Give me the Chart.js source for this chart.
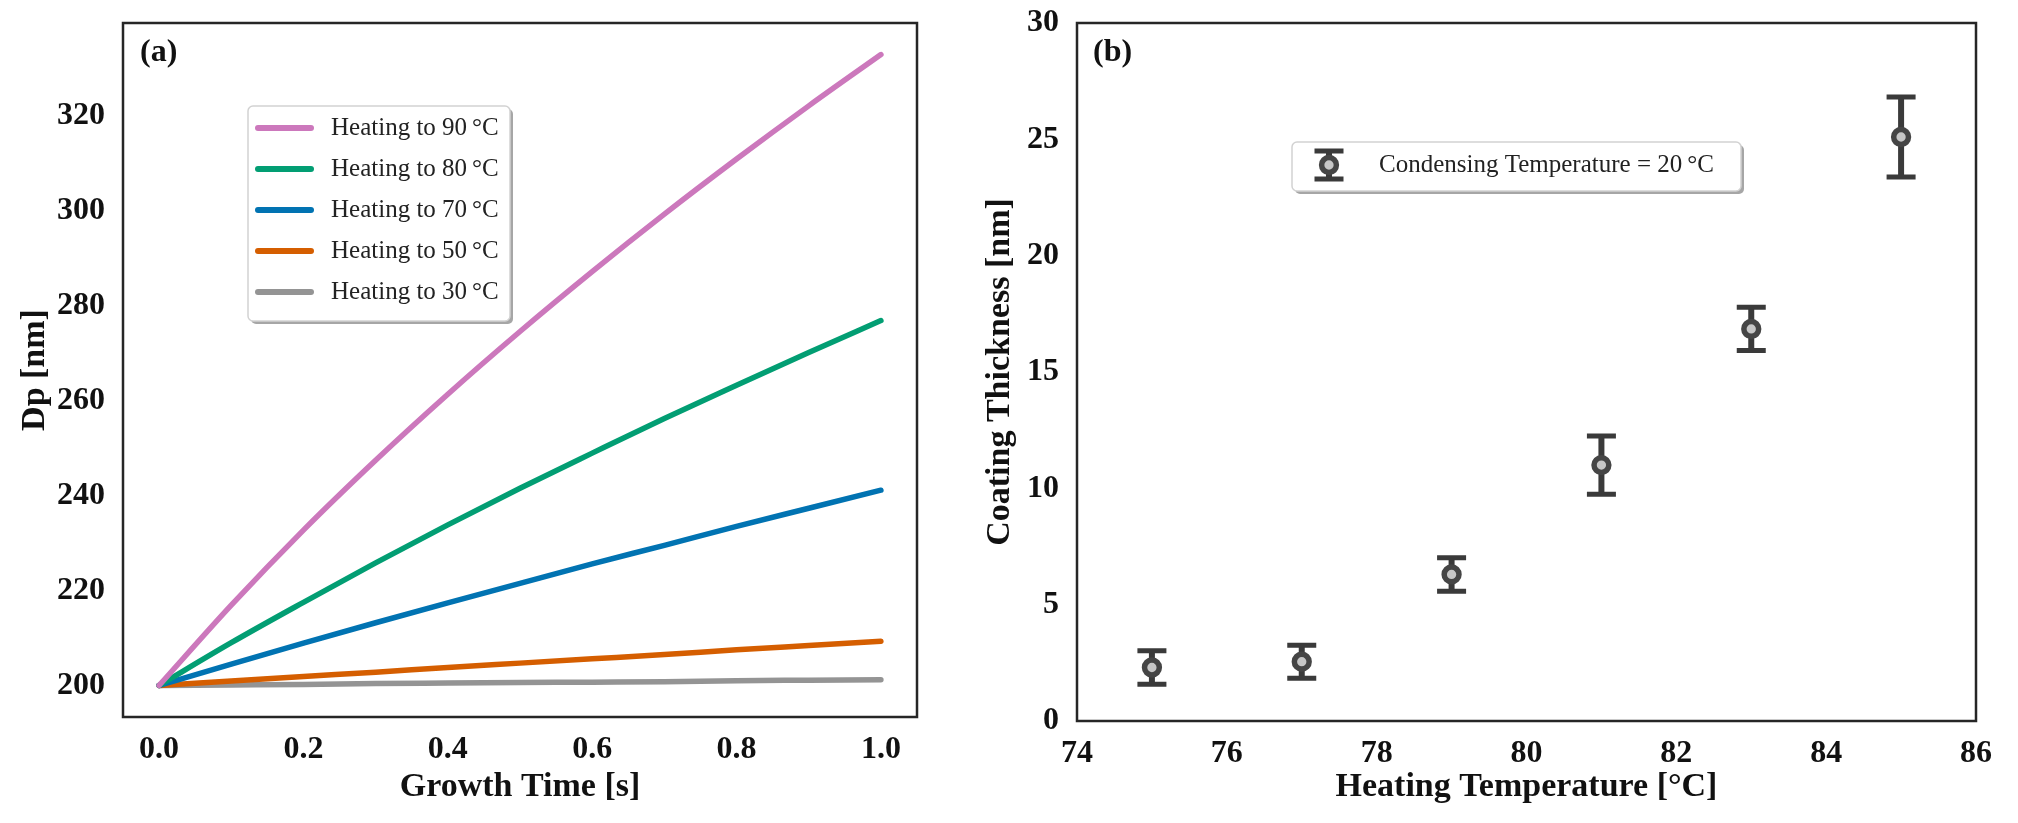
<!DOCTYPE html>
<html>
<head>
<meta charset="utf-8">
<script src="https://cdn.jsdelivr.net/npm/chart.js@4.4.1/dist/chart.umd.min.js"></script>
<style>
    html, body { margin: 0; padding: 0; background: #fff; }
    body { width: 2018px; height: 823px; position: relative; overflow: hidden; }
    canvas { position: absolute; top: 0; }
    #chart-a { left: 0; }
    #chart-b { left: 960px; }
</style>
</head>
<body>
<canvas id="chart-a" width="960" height="823"></canvas>
<canvas id="chart-b" width="1058" height="823"></canvas>
<script>
/* ---------- Panel (a): particle growth ---------- */
const growthTime = [0, 0.1, 0.2, 0.3, 0.4, 0.5, 0.6, 0.7, 0.8, 0.9, 1.0];
const dp90 = [200, 216.9, 232.7, 247.4, 261.3, 274.5, 287.1, 299.2, 310.8, 322.0, 332.8];
const dp80 = [200, 209.0, 217.5, 225.8, 233.8, 241.5, 248.9, 256.2, 263.2, 270.1, 276.8];
const dp70 = [200, 204.5, 208.9, 213.2, 217.4, 221.5, 225.6, 229.5, 233.5, 237.3, 241.1];
const dp50 = [200, 200.95, 201.9, 202.8, 203.8, 204.7, 205.6, 206.5, 207.5, 208.4, 209.3];
const dp30 = [200, 200.1, 200.2, 200.4, 200.5, 200.6, 200.7, 200.8, 201.0, 201.1, 201.2];
const seriesLabels = ['Heating to 90\u2009°C', 'Heating to 80\u2009°C', 'Heating to 70\u2009°C',
                      'Heating to 50\u2009°C', 'Heating to 30\u2009°C'];
const seriesColors = ['#CC78BC', '#029E73', '#0173B2', '#D55E00', '#949494'];
const xTicksA = [0, 0.2, 0.4, 0.6, 0.8, 1.0];
const yTicksA = [200, 220, 240, 260, 280, 300, 320];

/* ---------- Panel (b): coating thickness ---------- */
const heatingTemp = [75, 77, 79, 81, 83, 85];
const coatingThickness = [2.3, 2.55, 6.3, 11.0, 16.85, 25.1];
const thicknessErr = [0.72, 0.71, 0.72, 1.25, 0.93, 1.72];
const xTicksB = [74, 76, 78, 80, 82, 84, 86];
const yTicksB = [0, 5, 10, 15, 20, 25, 30];

const SERIF = '"Liberation Serif", "Times New Roman", serif';
const INK = '#111';

function roundRect(ctx, x, y, w, h, r) {
    ctx.beginPath();
    ctx.moveTo(x + r, y);
    ctx.arcTo(x + w, y, x + w, y + h, r);
    ctx.arcTo(x + w, y + h, x, y + h, r);
    ctx.arcTo(x, y + h, x, y, r);
    ctx.arcTo(x, y, x + w, y, r);
    ctx.closePath();
}

function legendBox(ctx, x, y, w, h) {
    roundRect(ctx, x + 3, y + 3, w, h, 5);
    ctx.fillStyle = 'rgba(0,0,0,0.35)';
    ctx.fill();
    roundRect(ctx, x, y, w, h, 5);
    ctx.fillStyle = '#fff';
    ctx.fill();
    ctx.strokeStyle = '#d2d2d2';
    ctx.lineWidth = 1.5;
    ctx.stroke();
}

// full box around the plot + panel letter
const framePlugin = {
    id: 'frame',
    afterDraw(chart, args, o) {
        const { ctx, chartArea: a } = chart;
        ctx.save();
        ctx.strokeStyle = '#262626';
        ctx.lineWidth = 2.5;
        ctx.strokeRect(a.left, a.top, a.right - a.left, a.bottom - a.top);
        ctx.font = `bold 32px ${SERIF}`;
        ctx.fillStyle = INK;
        ctx.textBaseline = 'middle';
        ctx.fillText(o.label, a.left + o.dx, a.top + 30);
        ctx.restore();
    }
};

// legend for the line panel
const lineLegend = {
    id: 'lineLegend',
    afterDraw(chart, args, o) {
        if (!o.show) return;
        const { ctx, chartArea: a } = chart;
        const x = a.left + 125, y = a.top + 83;
        ctx.save();
        legendBox(ctx, x, y, 262, 215);
        ctx.font = `25px ${SERIF}`;
        ctx.textBaseline = 'middle';
        chart.data.datasets.forEach((ds, i) => {
            const cy = y + 22 + i * 41;
            ctx.strokeStyle = ds.borderColor;
            ctx.lineWidth = 6;
            ctx.lineCap = 'round';
            ctx.beginPath();
            ctx.moveTo(x + 10, cy);
            ctx.lineTo(x + 63, cy);
            ctx.stroke();
            ctx.fillStyle = '#222';
            ctx.fillText(ds.label, x + 83, cy);
        });
        ctx.restore();
    }
};

function drawErrorBar(ctx, px, top, bot, cap) {
    ctx.lineWidth = 6;
    ctx.beginPath();
    ctx.moveTo(px, top);
    ctx.lineTo(px, bot);
    ctx.stroke();
    ctx.lineWidth = 5;
    ctx.beginPath();
    ctx.moveTo(px - cap / 2, top);
    ctx.lineTo(px + cap / 2, top);
    ctx.moveTo(px - cap / 2, bot);
    ctx.lineTo(px + cap / 2, bot);
    ctx.stroke();
}

// vertical error bars, drawn under the markers
const errorBars = {
    id: 'errorBars',
    beforeDatasetsDraw(chart) {
        const { ctx, scales: { x, y } } = chart;
        ctx.save();
        ctx.strokeStyle = '#3a3a3a';
        chart.data.datasets.forEach(ds => {
            if (!ds.errors) return;
            ds.data.forEach((p, i) => {
                const px = x.getPixelForValue(p.x);
                const top = y.getPixelForValue(p.y + ds.errors[i]);
                const bot = y.getPixelForValue(p.y - ds.errors[i]);
                drawErrorBar(ctx, px, top, bot, 29);
            });
        });
        ctx.restore();
    }
};

const errLegend = {
    id: 'errLegend',
    afterDraw(chart) {
        const { ctx, chartArea: a } = chart;
        const ds = chart.data.datasets[0];
        const x = a.left + 215, y = a.top + 119;
        ctx.save();
        legendBox(ctx, x, y, 449, 49);
        const cx = x + 37, cy = y + 23;
        ctx.strokeStyle = '#3a3a3a';
        drawErrorBar(ctx, cx, cy - 14, cy + 14, 29);
        ctx.beginPath();
        ctx.arc(cx, cy, 7.4, 0, Math.PI * 2);
        ctx.fillStyle = ds.backgroundColor;
        ctx.fill();
        ctx.lineWidth = 5.5;
        ctx.strokeStyle = ds.borderColor;
        ctx.stroke();
        ctx.font = `25px ${SERIF}`;
        ctx.textBaseline = 'middle';
        ctx.fillStyle = '#222';
        ctx.fillText(ds.label, x + 87, cy);
        ctx.restore();
    }
};

function tickFont() { return { family: SERIF, size: 32, weight: 'bold' }; }
function titleFont() { return { family: SERIF, size: 34, weight: 'bold' }; }

// fixed axis boxes so the plot areas land where the figure has them
function fixHeight(h) {
    return s => { s.height = h; s.paddingLeft = 0; s.paddingRight = 0; };
}
function fixWidth(w) {
    return s => { s.width = w; s.paddingTop = 0; s.paddingBottom = 0; };
}

// ---- Chart (a)
const seriesA = [dp90, dp80, dp70, dp50, dp30];
new Chart(document.getElementById('chart-a'), {
    type: 'line',
    data: {
        datasets: seriesA.map((vals, i) => ({
            label: seriesLabels[i],
            data: growthTime.map((t, j) => ({ x: t, y: vals[j] })),
            borderColor: seriesColors[i],
            backgroundColor: seriesColors[i],
            borderWidth: 5.5,
            borderCapStyle: 'round',
            pointRadius: 0,
            cubicInterpolationMode: 'monotone',
            fill: false
        }))
    },
    options: {
        responsive: false,
        animation: false,
        layout: { padding: { top: 23, right: 43, left: 0, bottom: 0 } },
        plugins: {
            legend: { display: false },
            tooltip: { enabled: false },
            frame: { label: '(a)', dx: 17 },
            lineLegend: { show: true }
        },
        scales: {
            x: {
                type: 'linear', min: -0.05, max: 1.05,
                grid: { display: false, drawTicks: false },
                border: { display: false },
                afterBuildTicks: s => { s.ticks = xTicksA.map(v => ({ value: v })); },
                afterFit: fixHeight(106),
                ticks: { padding: 14, color: INK, font: tickFont(), autoSkip: false, maxRotation: 0,
                         callback: v => v.toFixed(1) },
                title: { display: true, text: 'Growth Time [s]', color: INK, font: titleFont(),
                         padding: { top: 0, bottom: 15 } }
            },
            y: {
                type: 'linear', min: 193.36, max: 339.44,
                grid: { display: false, drawTicks: false },
                border: { display: false },
                afterBuildTicks: s => { s.ticks = yTicksA.map(v => ({ value: v })); },
                afterFit: fixWidth(123),
                ticks: { padding: 18, color: INK, font: tickFont(), autoSkip: false },
                title: { display: true, text: 'Dp [nm]', color: INK, font: titleFont(),
                         padding: { top: 15, bottom: 0 } }
            }
        }
    },
    plugins: [framePlugin, lineLegend]
});

// ---- Chart (b)
new Chart(document.getElementById('chart-b'), {
    type: 'scatter',
    data: {
        datasets: [{
            label: 'Condensing Temperature = 20\u2009°C',
            data: heatingTemp.map((t, i) => ({ x: t, y: coatingThickness[i] })),
            errors: thicknessErr,
            pointRadius: 7.4,
            borderWidth: 5.5,
            borderColor: '#454545',
            backgroundColor: '#c6c6c6',
            showLine: false
        }]
    },
    options: {
        responsive: false,
        animation: false,
        layout: { padding: { top: 23, right: 42, left: 0, bottom: 0 } },
        plugins: {
            legend: { display: false },
            tooltip: { enabled: false },
            frame: { label: '(b)', dx: 16 }
        },
        scales: {
            x: {
                type: 'linear', min: 74, max: 86,
                grid: { display: false, drawTicks: false },
                border: { display: false },
                afterBuildTicks: s => { s.ticks = xTicksB.map(v => ({ value: v })); },
                afterFit: fixHeight(102),
                ticks: { padding: 14, color: INK, font: tickFont(), autoSkip: false, maxRotation: 0 },
                title: { display: true, text: 'Heating Temperature [°C]', color: INK, font: titleFont(),
                         padding: { top: 0, bottom: 15 } }
            },
            y: {
                type: 'linear', min: 0, max: 30,
                grid: { display: false, drawTicks: false },
                border: { display: false },
                afterBuildTicks: s => { s.ticks = yTicksB.map(v => ({ value: v })); },
                afterFit: fixWidth(117),
                ticks: { padding: 18, color: INK, font: tickFont(), autoSkip: false },
                title: { display: true, text: 'Coating Thickness [nm]', color: INK, font: titleFont(),
                         padding: { top: 20, bottom: 0 } }
            }
        }
    },
    plugins: [framePlugin, errorBars, errLegend]
});
</script>
</body>
</html>
